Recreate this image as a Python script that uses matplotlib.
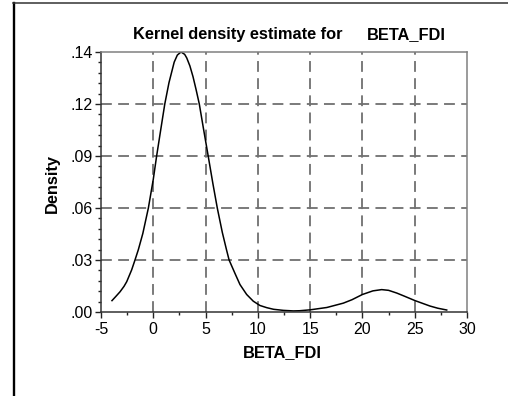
import numpy as np
import matplotlib
matplotlib.use("Agg")
import matplotlib.pyplot as plt
from matplotlib.lines import Line2D
from matplotlib.ticker import FixedLocator, FixedFormatter, MultipleLocator

plt.rcParams['font.family'] = ['Liberation Sans', 'DejaVu Sans']

# density curve
beta_fdi = [-3.95, -3.6, -3.18, -2.8, -2.54, -2.07, -1.75, -1.43, -1.0,
            -0.47, 0.0, 0.32, 0.7, 1.1, 1.5, 2.0, 2.3, 2.65, 3.0, 3.2, 3.5,
            3.8, 4.1, 4.4, 4.8, 5.25, 5.7, 6.12, 6.6, 7.0, 7.25, 7.81, 8.29,
            8.93, 9.56, 10.2, 10.85, 11.5, 12.44, 13.4, 14.0, 15.0, 16.6,
            18.17, 19.0, 20.0, 21.0, 21.84, 22.5, 23.28, 24.0, 25.03, 26.46,
            27.2, 28.06]
density = [0.0063, 0.0085, 0.0112, 0.0142, 0.0168, 0.0233, 0.0288, 0.0345,
           0.0435, 0.0576, 0.0735, 0.0864, 0.1005, 0.1152, 0.127, 0.1384,
           0.1423, 0.144, 0.1427, 0.1407, 0.1363, 0.1303, 0.123, 0.1152,
           0.1015, 0.0864, 0.0711, 0.0576, 0.0441, 0.0345, 0.0288, 0.0214,
           0.0152, 0.0097, 0.006, 0.0036, 0.0024, 0.0015, 0.0009, 0.0006,
           0.0007, 0.0012, 0.0025, 0.0049, 0.0068, 0.0097, 0.0117, 0.0124,
           0.012, 0.0105, 0.0088, 0.0063, 0.0033, 0.0021, 0.0011]

# y axis: 5 equal steps up to the peak, labels rounded
y_max = 0.144
y_ticks = list(np.linspace(0, y_max, 6))
y_labels = ['.00', '.03', '.06', '.09', '.12', '.14']
x_ticks = [-5, 0, 5, 10, 15, 20, 25, 30]
x_labels = ['-5', '0', '5', '10', '15', '20', '25', '30']

fig = plt.figure(figsize=(5.08, 3.96), dpi=100)
ax = fig.add_axes([101 / 508, 1 - 312 / 396, 366 / 508, 260 / 396])

ax.plot(beta_fdi, density, color='black', lw=1.1, solid_joinstyle='round')

ax.set_xlim(-5, 30)
ax.set_ylim(0, y_max)
ax.xaxis.set_major_locator(FixedLocator(x_ticks))
ax.xaxis.set_major_formatter(FixedFormatter(x_labels))
ax.xaxis.set_minor_locator(MultipleLocator(2.5))
ax.yaxis.set_major_locator(FixedLocator(y_ticks))
ax.yaxis.set_major_formatter(FixedFormatter(y_labels))
ax.yaxis.set_minor_locator(MultipleLocator(y_max / 25))

ax.tick_params(which='major', direction='out', length=4, width=1,
               color='#222222', labelsize=11.5, pad=2)
ax.tick_params(which='minor', direction='out', length=2.5, width=1,
               color='#222222')
ax.tick_params(axis='x', which='major', pad=3)

# dashed grid only on the inner ticks
for xv in x_ticks[1:-1]:
    ax.axvline(xv, color='#707070', lw=1.3, ls=(0, (6, 3.5)), zorder=0)
for yv in y_ticks[1:-1]:
    ax.axhline(yv, color='#707070', lw=1.3, ls=(0, (6, 3.5)), zorder=0)

for side in ['left', 'bottom']:
    ax.spines[side].set_color('#333333')
for side in ['top', 'right']:
    ax.spines[side].set_color('#808080')
for s in ax.spines.values():
    s.set_linewidth(1.1)

# title in two pieces, like the original
fig.text(342.7 / 508, 1 - 39.3 / 396, 'Kernel density estimate for',
         ha='right', va='baseline', fontsize=11.8, fontweight='bold')
fig.text(366.7 / 508, 1 - 39.3 / 396, 'BETA_FDI',
         ha='left', va='baseline', fontsize=11.8, fontweight='bold')
fig.text(52 / 508, 1 - 183.4 / 396, 'Density', rotation=90,
         ha='center', va='center', fontsize=11.8, fontweight='bold')
fig.text(282.7 / 508, 1 - 357.5 / 396, 'BETA_FDI',
         ha='center', va='baseline', fontsize=11.8, fontweight='bold')

# outer frame (left and top edges only are visible)
fig.add_artist(Line2D([14 / 508, 14 / 508], [0, 1 - 3.3 / 396],
                      color='black', lw=1.7))
fig.add_artist(Line2D([13 / 508, 1], [1 - 3.3 / 396, 1 - 3.3 / 396],
                      color='#333333', lw=1.1))

fig.savefig('out.png', dpi=100)
